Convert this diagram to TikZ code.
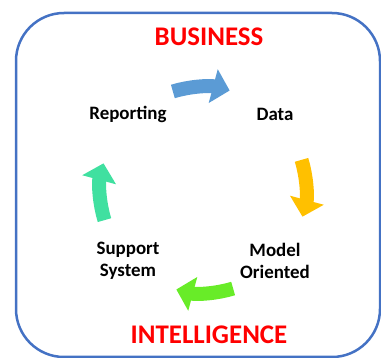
\documentclass[tikz,border=0pt]{standalone}
\usepackage{fontspec}
\setmainfont{Carlito}
\usetikzlibrary{arrows.meta}
\usetikzlibrary{calc}
\definecolor{frameblue}{RGB}{68,114,196}
\definecolor{cblue}{RGB}{91,155,213}
\definecolor{cyellow}{RGB}{255,192,0}
\definecolor{cgreen}{RGB}{104,236,40}
\definecolor{cteal}{RGB}{64,224,160}
\tikzstyle{title}  = [font=\fontsize{27}{32}\selectfont\bfseries, text=red]
\tikzstyle{stage}  = [font=\fontsize{19}{22}\selectfont\bfseries, align=center]
\tikzstyle{cycle}  = [line width=14bp, -{Triangle[width=34bp,length=17bp]}]

\begin{document}
\begin{tikzpicture}[x=1bp,y=1bp]
     \useasboundingbox (0,0) rectangle (381,358);
     \draw[frameblue, line width=2.5bp, rounded corners=48bp]
       (16,1) rectangle (380,345);
     \coordinate (hub) at (203,168);
     \draw
       node[title] (business) at (209,321) {BUSINESS}
       node[title] (intel)    at (209,23)  {INTELLIGENCE}
       node[stage] (report)   at (128,244) {Reporting}
       node[stage] (data)     at (275,244) {Data}
       node[stage] (model)    at (275,97)  {Model\\Oriented}
       node[stage] (support)  at (128,97)  {Support\\System};
     % the four arrows of the cycle, clockwise round the hub
     \draw[cycle, cblue]   ($(hub)+(107:103)$) arc[start angle=107, end angle=75,   radius=103];
     \draw[cycle, cyellow] ($(hub)+(17:103)$)  arc[start angle=17,  end angle=-15,  radius=103];
     \draw[cycle, cgreen]  ($(hub)+(-73:103)$) arc[start angle=-73, end angle=-105, radius=103];
     \draw[cycle, cteal]   ($(hub)+(197:103)$) arc[start angle=197, end angle=165,  radius=103];
\end{tikzpicture}
\end{document}
